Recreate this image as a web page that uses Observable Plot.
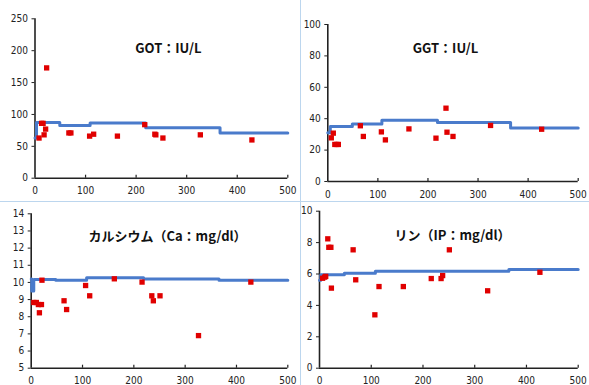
<!DOCTYPE html>
<html><head><meta charset="utf-8">
<script src="https://cdn.jsdelivr.net/npm/d3@7"></script>
<script src="https://cdn.jsdelivr.net/npm/@observablehq/plot@0.6"></script>
<style>
body{margin:0;background:#fff;}
#wrap{position:relative;width:589px;height:385px;overflow:hidden;background:#fff;}
.panel{position:absolute;}
.panel g[aria-label="x-axis tick label"], .panel g[aria-label="y-axis tick label"]{font-stretch:condensed;}
.vline{position:absolute;left:300px;top:0;width:1px;height:385px;background:#bcd6ee;}
.hline{position:absolute;left:0;top:201px;width:589px;height:1px;background:#bcd6ee;}
</style></head><body><div id="wrap"><div class="vline"></div><div class="hline"></div></div>
<script>
// ---- data ----
const xTicks = [0, 100, 200, 300, 400, 500];

const gotTitle = "GOT：IU/L";
const gotTicks = [0, 50, 100, 150, 200, 250];
const gotDays   = [8, 13, 16, 18, 21, 23, 67, 71, 108, 116, 163, 217, 237, 239, 253, 327, 429];
const gotValues = [63, 86, 86, 68, 77, 173, 71, 71, 66, 69, 66, 84, 69, 68, 63, 68, 60];
const gotStepDays   = [0, 3, 49, 109, 219, 366, 500];
const gotStepValues = [63, 87.5, 82.5, 86.5, 79, 71, 71];

const ggtTitle = "GGT：IU/L";
const ggtTicks = [0, 20, 40, 60, 80, 100];
const ggtDays   = [7, 11, 14, 18, 21, 65, 71, 107, 115, 162, 216, 236, 238, 250, 325, 427];
const ggtValues = [27.8, 30.8, 23.6, 23.6, 23.6, 35.5, 28.7, 31.6, 26.5, 33.5, 27.6, 46.7, 31.4, 28.7, 35.7, 33.3];
const ggtStepDays   = [0, 5, 49, 108, 219, 365, 500];
const ggtStepValues = [31, 35, 36.7, 39, 37.6, 34, 34];

const caTitle = "カルシウム（Ca：mg/dl）";
const caTicks = [5, 6, 7, 8, 9, 10, 11, 12, 13, 14];
const caDays   = [5, 10, 14, 16, 20, 21, 64, 69, 106, 114, 162, 216, 235, 238, 251, 326, 428];
const caValues = [8.83, 8.83, 8.71, 8.23, 8.71, 10.13, 8.93, 8.42, 9.82, 9.22, 10.21, 10.02, 9.22, 8.93, 9.22, 6.9, 10.02];
const caStepDays   = [0, 1, 5, 48, 108, 219, 366, 500];
const caStepValues = [10.2, 9.5, 10.17, 10.12, 10.27, 10.2, 10.13, 10.13];

const ipTitle = "リン（IP：mg/dl）";
const ipTicks = [0, 2, 4, 6, 8, 10];
const ipDays   = [6, 10, 12, 16, 18, 22, 23, 65, 70, 107, 115, 162, 216, 235, 238, 251, 325, 426];
const ipValues = [5.73, 5.8, 5.85, 8.24, 7.7, 7.7, 5.1, 7.54, 5.63, 3.4, 5.2, 5.2, 5.71, 5.71, 5.9, 7.54, 4.93, 6.11];
const ipStepDays   = [0, 2.5, 48, 108, 366, 500];
const ipStepValues = [5.6, 5.95, 6.05, 6.18, 6.28, 6.28];

// ---- drawing ----
const tickFont = "'Liberation Sans Narrow', 'DejaVu Sans Condensed', 'DejaVu Sans', sans-serif";
const titleFont = "'Noto Sans CJK JP', sans-serif";

function panel(o) {
  const ymin = o.yTicks[0], ymax = o.yTicks[o.yTicks.length - 1];
  const pts = o.days.map((d, i) => ({x: d, y: o.values[i]}));
  const step = o.stepDays.map((d, i) => ({x: d, y: o.stepValues[i]}));
  const chart = Plot.plot({
    width: o.width, height: o.height,
    marginLeft: o.ml, marginRight: o.mr, marginTop: o.mt, marginBottom: o.mb,
    style: {fontFamily: tickFont, fontSize: "10px", color: "#222", background: "transparent", overflow: "visible"},
    x: {domain: [0, 500]},
    y: {domain: [ymin, ymax]},
    marks: [
      Plot.axisX({ticks: xTicks, tickSize: 0, tickPadding: 9, fontSize: 10, label: null}),
      Plot.axisY({ticks: o.yTicks, tickSize: 3, tickPadding: 4, fontSize: 10, label: null}),
      Plot.ruleX(xTicks.slice(1), {x: d => d, y1: () => ymin, y2: () => ymin, insetTop: -3, stroke: "#222", strokeWidth: 1.2}),
      Plot.ruleY([ymin], {stroke: "#222", strokeWidth: 1.6}),
      Plot.ruleX([0], {stroke: "#222", strokeWidth: 1.6}),
      Plot.line(step, {x: "x", y: "y", curve: "step-after", stroke: "#4a7bcb", strokeWidth: 3}),
      Plot.dot(pts, {x: "x", y: "y", symbol: "square", r: 3, fill: "#e00000", stroke: "none"}),
      Plot.text([o.title], {text: d => d, frameAnchor: "top", dx: o.tdx, dy: o.tdy,
        fontFamily: titleFont, fontWeight: "bold", fontSize: 13, fill: "#111"})
    ]
  });
  chart.classList.add("panel");
  chart.style.left = o.left + "px";
  chart.style.top = o.top + "px";
  document.getElementById("wrap").appendChild(chart);
}

panel({left: 0, top: 0, width: 300, height: 200, ml: 34.5, mr: 12.7, mt: 18.3, mb: 22.3,
  yTicks: gotTicks, days: gotDays, values: gotValues, stepDays: gotStepDays, stepValues: gotStepValues,
  title: gotTitle, tdx: 7, tdy: 24.7});
panel({left: 300, top: 0, width: 289, height: 200, ml: 27.3, mr: 11.3, mt: 24, mb: 19,
  yTicks: ggtTicks, days: ggtDays, values: ggtValues, stepDays: ggtStepDays, stepValues: ggtStepValues,
  title: ggtTitle, tdx: -7.5, tdy: 19});
panel({left: 0, top: 200, width: 300, height: 185, ml: 30.7, mr: 12.7, mt: 13.3, mb: 17.3,
  yTicks: caTicks, days: caDays, values: caValues, stepDays: caStepDays, stepValues: caStepValues,
  title: caTitle, tdx: 8, tdy: 18.4});
panel({left: 300, top: 200, width: 289, height: 185, ml: 19, mr: 11.3, mt: 10.7, mb: 17.3,
  yTicks: ipTicks, days: ipDays, values: ipValues, stepDays: ipStepDays, stepValues: ipStepValues,
  title: ipTitle, tdx: 3.7, tdy: 20});
</script></body></html>
